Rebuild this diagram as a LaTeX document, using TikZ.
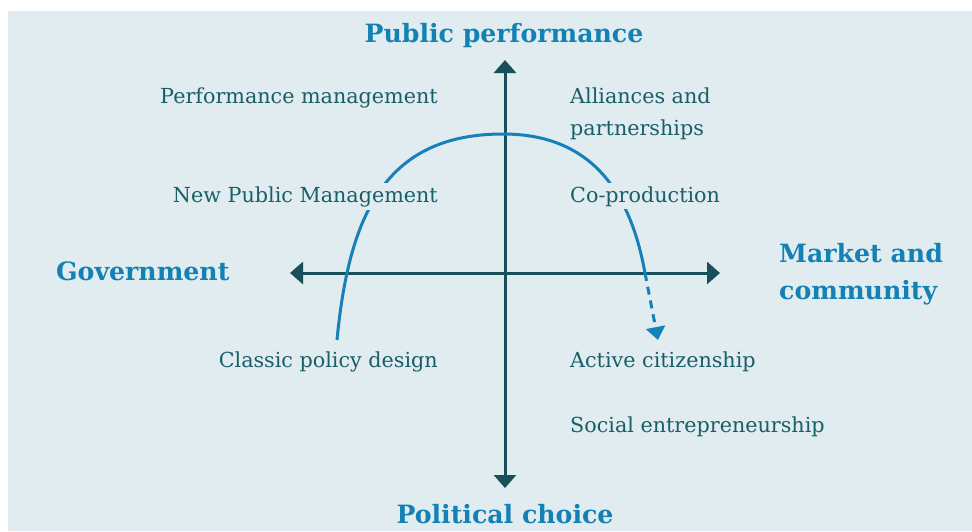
\documentclass[tikz,border=0pt]{standalone}
\usepackage{fontspec}
\setmainfont{DejaVu Serif}
\usetikzlibrary{arrows.meta}
\definecolor{bg}{HTML}{E0ECEF}
\definecolor{bodytxt}{HTML}{1A5E68}
\definecolor{headtxt}{HTML}{1381B3}
\definecolor{axiscol}{HTML}{174F5A}
\definecolor{curvecol}{HTML}{1680B8}
\begin{document}
\begin{tikzpicture}[x=1pt,y=-1pt,
  bodylabel/.style={text=bodytxt, fill=bg, font=\fontsize{20.7}{32}\selectfont, inner sep=3pt},
  headlabel/.style={text=headtxt, font=\bfseries\fontsize{25.2}{37}\selectfont, inner sep=0pt},
  axisline/.style={draw=axiscol, line width=3pt, {Triangle[width=22pt,length=13pt]}-{Triangle[width=22pt,length=13pt]}},
  curveline/.style={draw=curvecol, line width=3pt}
]
\fill[white] (0,0) rectangle (972,531);
\fill[bg] (8,11) rectangle (972,531);
\useasboundingbox (0,0) rectangle (972,531);

% axes
\coordinate (vt) at (505,60);
\coordinate (vb) at (505,488);
\coordinate (hl) at (290,273);
\coordinate (hr) at (720,273);
\draw[axisline] (vt) -- (vb);
\draw[axisline] (hl) -- (hr);

% curve
\coordinate (cstart) at (337,340);
\coordinate (ctop) at (503,134);
\coordinate (ccross) at (645,273);
\coordinate (ctip) at (658,340);
\draw[curveline] (cstart) .. controls (349,215) and (385,134) .. (ctop)
  .. controls (590,134) and (630,190) .. (ccross);
\draw[curveline, dash pattern=on 8pt off 6pt, -{Triangle[width=19pt,length=13pt]}] (ccross) -- (ctip);

% headings
\node[headlabel, anchor=base] (pp) at (504,42) {Public performance};
\node[headlabel, anchor=base] (pc) at (505,523) {Political choice};
\node[headlabel, anchor=base west] (gov) at (56,280) {Government};
\node[headlabel, anchor=west, align=left] (mc) at (779,274.5) {Market and\\community};

% body labels
\node[bodylabel, anchor=base east] (pm) at (441,103) {Performance management};
\node[bodylabel, anchor=base east] (npm) at (441,202) {New Public Management};
\node[bodylabel, anchor=base east] (cpd) at (441,367) {Classic policy design};
\node[bodylabel, anchor=west, align=left] (ap) at (567,113.6) {Alliances and\\partnerships};
\node[bodylabel, anchor=base west] (cop) at (567,202) {Co-production};
\node[bodylabel, anchor=base west] (ac) at (567,367) {Active citizenship};
\node[bodylabel, anchor=base west] (se) at (567,432) {Social entrepreneurship};
\end{tikzpicture}
\end{document}
